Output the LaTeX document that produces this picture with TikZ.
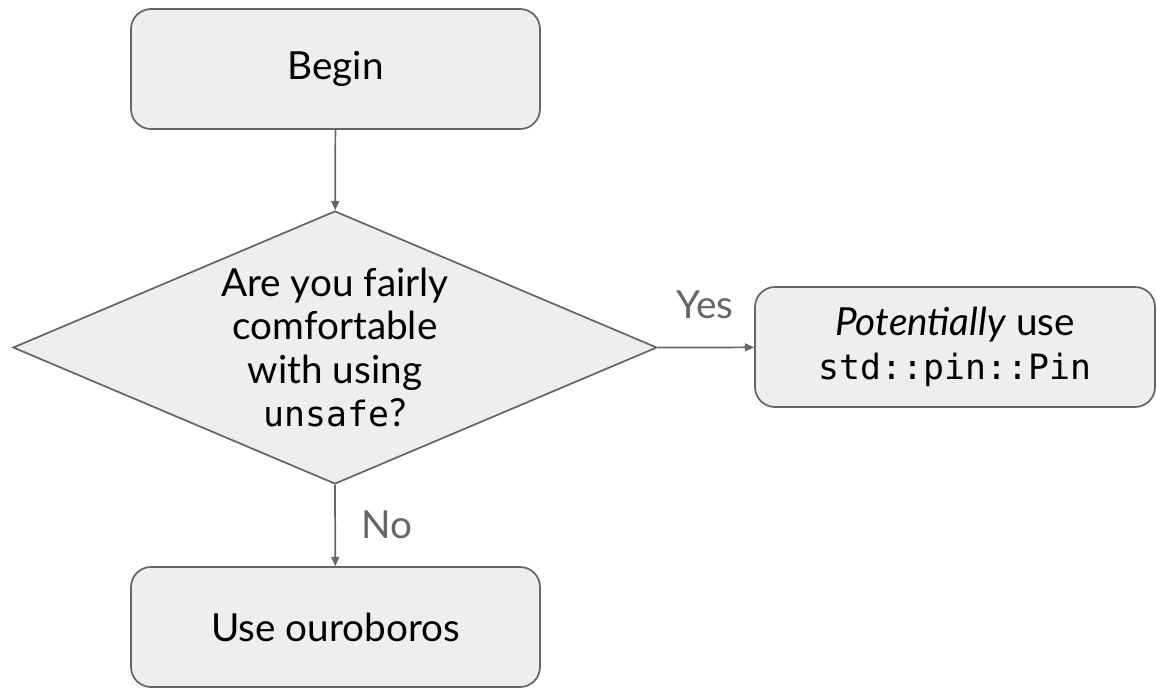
\documentclass[tikz,border=0pt]{standalone}
\usepackage{fontspec}
\setmainfont{Lato}
\setmonofont[Scale=0.9]{DejaVu Sans Mono}
\usepackage{xcolor}
\usepackage{tikz}
\usetikzlibrary{shapes.geometric,arrows.meta}

\definecolor{edgegray}{HTML}{666666}
\definecolor{boxfill}{HTML}{EEEEEE}

\begin{document}
\begin{tikzpicture}[x=0.75pt, y=-0.75pt,
  every node/.style={font=\fontsize{29}{32.5}\selectfont},
  stepbox/.style={draw=edgegray, fill=boxfill, line width=1.3pt, rounded corners=15pt,
    minimum width=306.75pt, minimum height=90pt, align=center},
  choice/.style={draw=edgegray, fill=boxfill, line width=1.3pt, diamond, shape aspect=2.36,
    inner sep=0pt, minimum width=483pt, minimum height=204.75pt, align=center},
  flow/.style={draw=edgegray, line width=1.3pt, -{Triangle[length=7pt, width=6pt]}},
  answer/.style={text=edgegray}]
\useasboundingbox (0,0) rectangle (1157,687);
\node[stepbox] (begin) at (335.5,69) {Begin};
\node[choice] (unsafe) at (335,347.5) {Are you fairly\\comfortable\\with using\\\texttt{unsafe}?};
\node[stepbox, minimum width=300pt] (pin) at (955,347) {\textit{Potentially} use\\\texttt{std::pin::Pin}};
\node[stepbox] (ouro) at (335.5,627) {Use ouroboros};
\draw[flow] (begin) -- (unsafe);
\draw[flow] (unsafe.east) -- (pin);
\draw[flow] (unsafe.south) -- (ouro);
\node[answer] (yes) at (705,305) {Yes};
\node[answer] (no) at (387,525) {No};
\end{tikzpicture}
\end{document}
